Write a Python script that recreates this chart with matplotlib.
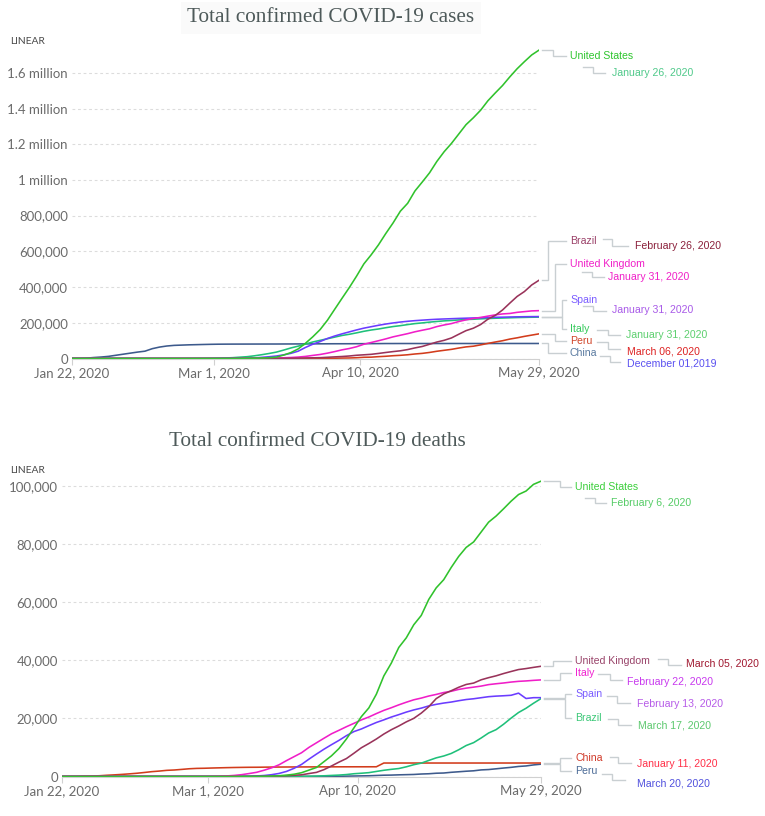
import numpy as np
import matplotlib
matplotlib.use("Agg")
import matplotlib.pyplot as plt
from matplotlib.lines import Line2D

# ---------------- data ----------------
dates = np.arange(np.datetime64('2020-01-22'), np.datetime64('2020-05-30'), 2)  # every 2 days

# Total confirmed cases (thousands)
cases_us = [0, 0, 0, 0, 0, 0, 0, 0, 0, 0, 0, 0, 0, 0, 0, 0, 0, 0.1, 0.1, 0.1,
            0.1, 0.2, 0.3, 0.5, 1.0, 1.7, 2.7, 4.6, 7.8, 19.1, 33.3, 53.7, 85.4, 121.5, 161.8,
            214.0, 275.6, 336.8, 397.0, 461.4, 529.9, 580.6, 636.4, 699.7, 759.1, 825.0, 869.2,
            938.2, 988.2, 1039.9, 1103.5, 1158.0, 1204.4, 1256.9, 1309.5, 1347.9, 1390.4, 1443.4,
            1486.8, 1528.6, 1577.1, 1622.6, 1662.3, 1699.9, 1727.0]
cases_brazil = [0] * 20 + [0, 0, 0, 0, 0, 0.1, 0.1, 0.2, 0.4, 0.9, 1.6, 2.2, 2.9, 3.9, 4.6,
                6.8, 9.1, 11.1, 14.0, 18.1, 20.7, 23.4, 28.3, 33.7, 38.7, 43.1, 50.0, 59.3, 67.4,
                79.7, 92.2, 101.8, 115.0, 135.8, 156.0, 169.6, 190.1, 220.3, 241.1, 271.6, 310.1,
                347.4, 374.9, 411.8, 438.2]
cases_uk = [0] * 18 + [0.02, 0.02, 0.04, 0.09, 0.16, 0.27, 0.38, 0.59, 1.1, 1.5, 2.6, 4.0,
            5.7, 8.1, 11.7, 17.3, 22.5, 29.9, 38.7, 48.4, 55.9, 65.9, 79.9, 89.6, 99.5, 109.8,
            121.2, 130.2, 139.2, 149.6, 158.3, 166.4, 178.7, 187.8, 195.5, 207.0, 216.5, 224.3,
            230.0, 237.4, 244.4, 249.6, 252.2, 258.5, 262.5, 266.6, 268.0]
cases_spain = [0] * 20 + [0.1, 0.2, 0.4, 0.7, 1.7, 3.1, 6.4, 9.9, 13.9, 20.4, 28.8, 41.0,
               62.0, 80.0, 95.0, 112.0, 126.0, 138.0, 149.0, 160.0, 170.0, 178.0, 186.0, 193.0,
               199.0, 204.2, 208.4, 212.0, 214.8, 217.5, 219.8, 221.4, 222.9, 224.5, 225.8, 227.1,
               228.3, 229.5, 230.7, 231.4, 232.5, 233.3, 234.0, 234.5, 234.8]
cases_italy = [0] * 16 + [0.16, 0.32, 0.65, 1.13, 2.0, 3.1, 4.6, 7.4, 10.1, 15.1, 21.2, 28.0,
               35.7, 47.0, 59.1, 69.2, 80.6, 92.5, 101.7, 110.6, 119.8, 128.9, 135.6, 143.6,
               152.3, 159.5, 165.2, 172.4, 178.9, 183.9, 189.9, 195.4, 199.4, 203.6, 207.4, 210.7,
               213.0, 215.9, 218.3, 219.8, 222.1, 223.9, 225.4, 226.7, 228.0, 229.3, 230.2, 231.1,
               231.7]
cases_peru = [0] * 26 + [0.04, 0.09, 0.15, 0.23, 0.36, 0.4, 0.58, 0.64, 0.95, 1.3, 1.6, 2.3,
              2.9, 4.3, 6.8, 7.5, 10.3, 12.5, 15.6, 17.8, 20.9, 25.3, 28.7, 33.9, 40.5, 45.9,
              51.2, 58.5, 65.0, 68.8, 76.3, 84.5, 92.3, 99.5, 108.8, 115.8, 123.9, 131.0, 138.0]
cases_china = [0.5, 0.9, 2.1, 5.5, 8.2, 11.9, 18.0, 24.0, 30.0, 36.0, 41.0, 55.0, 64.0, 70.0,
               73.5, 75.0, 76.5, 77.5, 78.5, 79.4, 80.1, 80.4, 80.6, 80.7, 80.8, 80.9, 81.0,
               81.1, 81.1, 81.3, 81.4, 81.6, 81.8, 82.1, 82.2, 82.4, 82.6, 82.6, 82.7, 82.9,
               83.0, 83.2, 83.4, 83.8, 83.8, 83.9, 83.9, 83.9, 83.9, 83.9, 83.9, 84.0, 84.0,
               84.0, 84.0, 84.0, 84.0, 84.0, 84.0, 84.1, 84.1, 84.1, 84.1, 84.1, 84.1]

# Total confirmed deaths
deaths_us = [0] * 19 + [1, 6, 11, 14, 21, 28, 40, 57, 85, 150, 260, 471, 780, 1300, 2200, 3100,
             5100, 7100, 9600, 12900, 16700, 20600, 23600, 28300, 34600, 39000, 44400, 47700,
             52200, 55400, 60900, 64900, 67700, 71900, 75700, 78800, 80700, 84100, 87500, 89600,
             92100, 94700, 97000, 98200, 100500, 101600]
deaths_uk = [0] * 22 + [1, 3, 7, 8, 21, 56, 104, 178, 282, 423, 580, 1021, 1415, 2357, 3611,
             4943, 6171, 7993, 9892, 11347, 12894, 14607, 16095, 17378, 18791, 20000, 21800,
             24000, 26800, 28400, 29501, 30689, 31662, 32141, 33264, 33998, 34636, 35422, 36124,
             36793, 37130, 37542, 37919]
deaths_italy = [0] * 16 + [3, 11, 17, 29, 52, 107, 197, 366, 631, 1016, 1441, 2158, 2978, 4032,
                5476, 6820, 8165, 10023, 11591, 13155, 14681, 15887, 17127, 18279, 19468, 20465,
                21645, 22745, 23660, 24648, 25549, 26384, 26977, 27682, 28236, 28884, 29315,
                29958, 30395, 30739, 31106, 31610, 31908, 32169, 32486, 32735, 32877, 33072, 33229]
deaths_spain = [0] * 21 + [1, 5, 17, 35, 86, 195, 342, 623, 1050, 1756, 2808, 4145, 5982, 7716,
                9387, 10935, 12418, 14045, 15447, 16353, 17489, 18579, 19478, 20453, 21282, 22157,
                22902, 23521, 24275, 24824, 25264, 25613, 26070, 26478, 26744, 27104, 27459,
                27650, 27778, 27940, 28678, 26834, 27117, 27121]
deaths_brazil = [0] * 28 + [1, 11, 25, 46, 77, 111, 159, 241, 365, 486, 667, 950, 1124, 1328,
                 1736, 2141, 2462, 2741, 3331, 4057, 4603, 5513, 6412, 7051, 7921, 9190, 10656,
                 11653, 13240, 14962, 16118, 17983, 20082, 22013, 23473, 25200, 26800]
deaths_china = [17, 26, 56, 132, 170, 259, 425, 563, 722, 908, 1113, 1380, 1666, 1868, 2118, 2236,
                2443, 2663, 2788, 2835, 2915, 2981, 3045, 3097, 3136, 3169, 3180, 3213, 3242,
                3253, 3270, 3281, 3291, 3299, 3308, 3316, 3326, 3331, 3335, 3337, 3339, 3341,
                3346, 4636, 4636, 4636, 4637, 4637, 4637, 4637, 4637, 4637, 4637, 4637, 4637,
                4637, 4637, 4637, 4638, 4638, 4638, 4638, 4638, 4638, 4638]
deaths_peru = [0] * 29 + [3, 5, 7, 9, 18, 24, 30, 61, 83, 121, 169, 216, 254, 348, 445, 484, 572,
               634, 700, 854, 943, 1124, 1200, 1444, 1627, 1814, 1961, 2267, 2392, 2648, 2914,
               3148, 3456, 3629, 3983, 4230]

x_tick_dates = ['2020-01-22', '2020-03-01', '2020-04-10', '2020-05-29']
x_tick_labels = ['Jan 22, 2020', 'Mar 1, 2020', 'Apr 10, 2020', 'May 29, 2020']
cases_yticks = [0, 200000, 400000, 600000, 800000, 1000000, 1200000, 1400000, 1600000]
cases_ylabels = ['0', '200,000', '400,000', '600,000', '800,000', '1 million',
                 '1.2 million', '1.4 million', '1.6 million']
deaths_yticks = [0, 20000, 40000, 60000, 80000, 100000]
deaths_ylabels = ['0', '20,000', '40,000', '60,000', '80,000', '100,000']

cases_names = ['United States', 'Brazil', 'United Kingdom', 'Spain', 'Italy', 'Peru', 'China']
cases_first = ['January 26, 2020', 'February 26, 2020', 'January 31, 2020', 'January 31, 2020',
               'January 31, 2020', 'March 06, 2020', 'December 01,2019']
deaths_names = ['United States', 'United Kingdom', 'Italy', 'Spain', 'Brazil', 'China', 'Peru']
deaths_first = ['February 6, 2020', 'March 05, 2020', 'February 22, 2020', 'February 13, 2020',
                'March 17, 2020', 'January 11, 2020', 'March 20, 2020']

# ---------------- styling ----------------
W, H = 765, 816
GREEN = '#30c22c'
MAROON = '#99335a'
MAGENTA = '#f01ec8'
PURPLE = '#6b3cff'
TEAL = '#1fc07a'
RED = '#d23c1c'
SLATE = '#3d5a8c'
GRID = '#dcdcdc'
CONN = '#c9cfd2'
TICK = '#6b6b6b'
SANS = ['Lato', 'DejaVu Sans']
LABF = ['Liberation Sans', 'DejaVu Sans']
SERIF = ['Liberation Serif', 'DejaVu Serif']
LW = 1.15

fig = plt.figure(figsize=(W / 100, H / 100), dpi=100)
fig.patch.set_facecolor('white')


def fx(x):
    return x / W


def fy(y):
    return 1 - y / H


def poly(pts):
    xs = [fx(p[0]) for p in pts]
    ys = [fy(p[1]) for p in pts]
    fig.add_artist(Line2D(xs, ys, transform=fig.transFigure, color=CONN, lw=1.0,
                          solid_joinstyle='miter'))


def style_axes(ax, yticks, ylabels, ymax):
    ax.set_xlim(dates[0], dates[-1])
    ax.set_ylim(0, ymax)
    ax.set_yticks(yticks)
    ax.set_yticklabels(ylabels, fontfamily=SANS, fontsize=9.5, color=TICK)
    ax.set_xticks(np.array(x_tick_dates, dtype='datetime64[D]'))
    ax.set_xticklabels(x_tick_labels, fontfamily=SANS, fontsize=9.5, color=TICK)
    for s in ['top', 'right', 'left']:
        ax.spines[s].set_visible(False)
    ax.spines['bottom'].set_color('#d0d0d0')
    ax.tick_params(axis='y', length=0, pad=3)
    ax.tick_params(axis='x', length=4, color='#d0d0d0', pad=2)
    ax.grid(axis='y', linestyle=(0, (2.5, 2.5)), color=GRID, lw=0.8)
    ax.set_axisbelow(True)
    ax.patch.set_alpha(0)


def end_px(ax, values, scale):
    disp = ax.transData.transform((matplotlib.dates.date2num(dates[-1]), values[-1] * scale))
    return disp[0], H - disp[1]


# ---------------- top chart: cases ----------------
ax1 = fig.add_axes([fx(72), fy(358.5), fx(539) - fx(72), (358.5 - 46) / H])
k = 1000
top_series = [(cases_china, SLATE), (cases_peru, RED), (cases_italy, TEAL), (cases_spain, PURPLE),
              (cases_uk, MAGENTA), (cases_brazil, MAROON), (cases_us, GREEN)]
for vals, c in top_series:
    ax1.plot(dates, np.array(vals) * k, color=c, lw=LW, solid_joinstyle='round')
style_axes(ax1, cases_yticks, cases_ylabels, 1750000)

fig.text(fx(331), fy(18), 'Total confirmed COVID-19 cases', ha='center', va='center',
         fontfamily=SERIF, fontsize=15.3, color='#4e5a5a',
         bbox=dict(boxstyle='square,pad=0.3', fc='#fafafa', ec='none'))
fig.text(fx(10), fy(41), 'LINEAR', ha='left', va='center', fontfamily=SANS, fontsize=7.4,
         color='#4a4a4a')

fig.canvas.draw()
# label layout: (series, name color, date color, name y, elbow x, date connector, date pos)
top_labels = [
    (cases_us, '#2ec52e', '#4fc98a', 56, 553, [(583, 67), (593, 67), (593, 73), (605, 73)], (612, 73)),
    (cases_brazil, '#9a4068', '#8a1f3a', 241, 548, [(603, 239), (612, 239), (612, 246), (628, 246)], (635, 246)),
    (cases_uk, '#f020c8', '#f020c8', 264, 555, [(582, 272), (592, 272), (592, 277), (604, 277)], (608, 277)),
    (cases_spain, '#7a5cff', '#a85ae8', 300, 562, [(583, 306), (593, 306), (593, 311), (606, 311)], (612, 310)),
    (cases_italy, '#34c95a', '#5ccf6e', 329, 562, [(597, 330), (608, 330), (608, 335), (620, 335)], (626, 335)),
    (cases_peru, '#d04428', '#dd2222', 341, 555, [(597, 342), (608, 342), (608, 349), (620, 349)], (627, 351)),
    (cases_china, '#5a7aa0', '#5a50f0', 353, 548, [(600, 356), (610, 356), (610, 362), (620, 362)], (627, 363)),
]
for i, (vals, cn, cd, ny, ex, dconn, dpos) in enumerate(top_labels):
    x0, y0 = end_px(ax1, vals, k)
    poly([(x0 + 3, y0), (ex, y0), (ex, ny), (566, ny)])
    fig.text(fx(570), fy(ny), cases_names[i], ha='left', va='center', fontfamily=LABF,
             fontsize=7.6, color=cn)
    poly(dconn)
    fig.text(fx(dpos[0]), fy(dpos[1]), cases_first[i], ha='left', va='center',
             fontfamily=LABF, fontsize=7.6, color=cd)

# ---------------- bottom chart: deaths ----------------
ax2 = fig.add_axes([fx(62), fy(776.5), fx(541) - fx(62), (776.5 - 480) / H])
bot_series = [(deaths_peru, SLATE), (deaths_china, RED), (deaths_brazil, TEAL),
              (deaths_spain, PURPLE), (deaths_italy, MAGENTA), (deaths_uk, MAROON),
              (deaths_us, GREEN)]
for vals, c in bot_series:
    ax2.plot(dates, vals, color=c, lw=LW, solid_joinstyle='round')
style_axes(ax2, deaths_yticks, deaths_ylabels, 102000)

fig.text(fx(317), fy(442), 'Total confirmed COVID-19 deaths', ha='center', va='center',
         fontfamily=SERIF, fontsize=15.3, color='#4e5a5a')
fig.text(fx(10), fy(471), 'LINEAR', ha='left', va='center', fontfamily=SANS, fontsize=7.4,
         color='#4a4a4a')

fig.canvas.draw()
bot_labels = [
    (deaths_us, '#3ccf3c', '#55cc66', 487, 560, [(585, 498), (595, 498), (595, 503), (606, 503)], (611, 503)),
    (deaths_uk, '#99446a', '#a01830', 661, 553, [(658, 659), (668, 659), (668, 665), (681, 665)], (686, 663)),
    (deaths_italy, '#f020d0', '#c838ee', 673, 560, [(598, 674), (610, 674), (610, 680), (622, 680)], (627, 682)),
    (deaths_spain, '#7a5cff', '#b65ae8', 694, 565, [(607, 696), (617, 696), (617, 703), (630, 703)], (637, 704)),
    (deaths_brazil, '#3cc878', '#5cc86e', 718, 565, [(608, 719), (618, 719), (618, 725), (631, 725)], (638, 725)),
    (deaths_china, '#d03a2a', '#ff3048', 758, 560, [(610, 757), (618, 757), (618, 763), (631, 763)], (637, 764)),
    (deaths_peru, '#4a6a96', '#5050dd', 771, 560, [(602, 774), (612, 774), (612, 780), (625, 780)], (637, 783)),
]
for i, (vals, cn, cd, ny, ex, dconn, dpos) in enumerate(bot_labels):
    x0, y0 = end_px(ax2, vals, 1)
    poly([(x0 + 3, y0), (ex, y0), (ex, ny), (571, ny)])
    fig.text(fx(575), fy(ny), deaths_names[i], ha='left', va='center', fontfamily=LABF,
             fontsize=7.6, color=cn)
    poly(dconn)
    fig.text(fx(dpos[0]), fy(dpos[1]), deaths_first[i], ha='left', va='center',
             fontfamily=LABF, fontsize=7.6, color=cd)

fig.savefig('out.png', dpi=100)
